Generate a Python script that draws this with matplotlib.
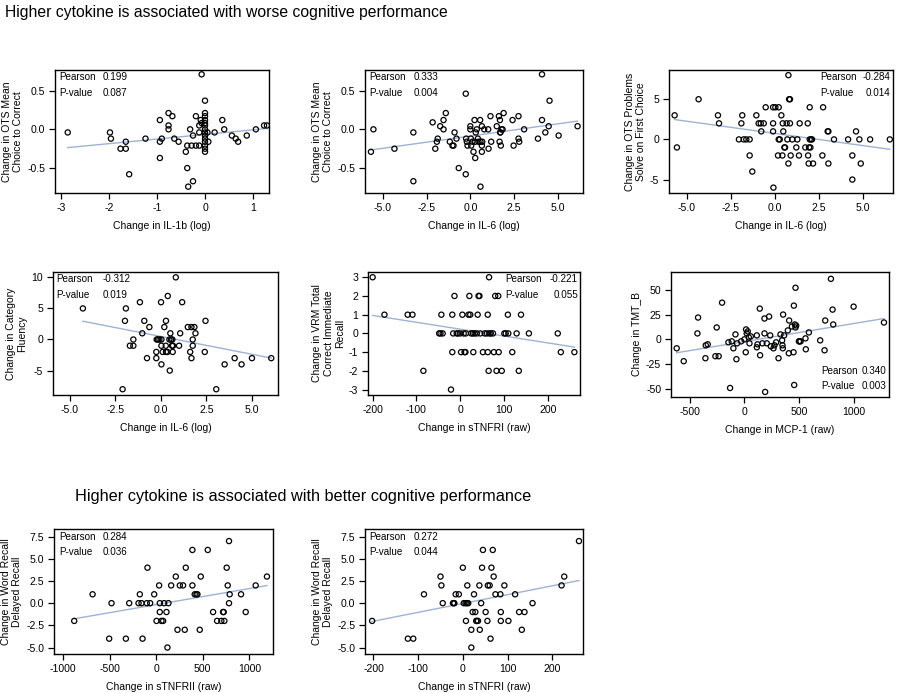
import matplotlib
matplotlib.use("Agg")
import matplotlib.pyplot as plt
import numpy as np

plt.rcParams['font.family'] = ['Liberation Sans', 'DejaVu Sans']

# ---------------- data ----------------
p1_x = [-2.86, -1.98, -1.96, -1.76, -1.65, -1.65, -1.58, -1.24, -0.94, -0.94, -0.90, -0.94,
        -0.76, -0.76, -0.76, -0.68, -0.64, -0.55, -0.40, -0.37, -0.37, -0.35, -0.31, -0.28,
        -0.25, -0.25, -0.19, -0.19, -0.12, -0.12, -0.12, -0.09, -0.07, -0.07,
        0.0, 0.0, 0.0, 0.0, 0.0, 0.0, 0.0, 0.0, 0.0, 0.0, 0.0, 0.0, 0.0, 0.0,
        0.05, 0.07, 0.20, 0.36, 0.40, 0.56, 0.64, 0.69, 0.87, 1.06, 1.23, 1.29]
p1_y = [-0.04, -0.04, -0.12, -0.25, -0.16, -0.25, -0.58, -0.12, 0.12, -0.16, -0.12, -0.37,
        0.21, 0.05, 0.00, 0.17, -0.12, -0.16, -0.29, -0.21, -0.50, -0.74, 0.00, -0.21,
        -0.08, -0.67, 0.17, -0.21, -0.21, 0.05, -0.04, 0.12, 0.71, 0.08,
        0.37, 0.21, 0.17, 0.12, 0.08, 0.05, 0.0, -0.04, -0.08, -0.12, -0.16, -0.21, -0.25, -0.29,
        -0.04, -0.16, -0.04, 0.12, 0.0, -0.08, -0.12, -0.16, -0.08, 0.0, 0.05, 0.05]

p2_x = [-5.67, -5.53, -4.33, -3.25, -3.25, -2.15, -2.00, -1.91, -1.86, -1.72, -1.53, -1.53,
        -1.40, -1.17, -1.02, -0.96, -0.90, -0.79, -0.66, -0.26, -0.26, -0.24, -0.20, -0.16,
        0.0, 0.0, 0.03, 0.05, 0.12, 0.18, 0.24, 0.28, 0.28, 0.31, 0.37, 0.43, 0.47, 0.56,
        0.58, 0.58, 0.66, 0.66, 0.66, 0.68, 0.79, 1.02, 1.04, 1.15, 1.19, 1.51, 1.63, 1.67,
        1.69, 1.70, 1.72, 1.74, 1.78, 1.84, 1.90, 2.41, 2.47, 2.75, 2.75, 2.79, 3.07, 3.86,
        4.09, 4.09, 4.28, 4.47, 4.52, 5.04, 6.12]
p2_y = [-0.29, 0.0, -0.25, -0.04, -0.67, 0.09, -0.25, -0.16, -0.12, 0.04, 0.12, 0.0,
        0.21, -0.16, -0.21, -0.21, -0.04, -0.12, -0.50, 0.46, -0.58, -0.12, -0.16, -0.21,
        0.04, 0.0, -0.12, -0.21, -0.16, -0.29, 0.12, -0.16, -0.37, -0.04, 0.0, -0.12, -0.16, 0.12,
        -0.74, -0.16, -0.21, -0.29, 0.04, -0.16, 0.0, 0.0, -0.25, 0.17, -0.16, 0.04, 0.17, -0.16,
        0.12, -0.04, -0.04, -0.21, 0.0, 0.0, 0.21, 0.12, -0.21, 0.17, -0.12, -0.16, 0.0, -0.12,
        0.71, 0.12, -0.04, 0.04, 0.37, -0.08, 0.04]

p3_x = [-5.70, -5.57, -4.34, -3.24, -3.18, -2.05, -1.91, -1.86, -1.78, -1.63, -1.44, -1.44,
        -1.29, -1.06, -0.93, -0.81, -0.78, -0.64, -0.53, -0.11, -0.09, -0.11, -0.11, 0.02,
        0.17, 0.21, 0.21, 0.27, 0.36, 0.42, 0.44, 0.47, 0.53, 0.57, 0.66, 0.70, 0.76, 0.76,
        0.80, 0.85, 0.85, 0.89, 0.98, 1.21, 1.27, 1.36, 1.40, 1.72, 1.86, 1.88, 1.91, 1.93,
        1.97, 1.97, 2.01, 2.05, 2.10, 2.16, 2.69, 2.73, 2.99, 3.03, 3.03, 3.35, 4.15, 4.39,
        4.39, 4.60, 4.79, 4.87, 5.40, 6.52]
p3_y = [3, -1, 5, 3, 2, 0, 2, 3, 0, 0, 0, -2,
        -4, 3, 2, 2, 1, 2, 4, 4, -6, 2, 1, 4,
        -2, 4, 0, 0, 3, -2, 2, 1, -1, -1, 2, 0, -3, 8,
        5, 5, 2, -2, 0, -1, 0, -2, 2, -1, 2, -2, -3, -1,
        4, 0, -1, 0, 0, -3, -2, 4, 1, 1, -3, 0, 0, -2,
        -5, 1, 0, -3, 0, 0]

p4_x = [-4.28, -2.10, -1.97, -1.92, -1.70, -1.51, -1.51, -1.15, -1.02, -0.91, -0.76, -0.63,
        -0.25, -0.25, -0.23, -0.16, -0.08, 0.01, 0.03, 0.03, 0.03, 0.10, 0.19, 0.27, 0.28,
        0.28, 0.36, 0.38, 0.47, 0.49, 0.52, 0.56, 0.61, 0.63, 0.65, 0.67, 0.82, 1.00, 1.06,
        1.17, 1.48, 1.61, 1.68, 1.68, 1.75, 1.75, 1.84, 1.90, 2.41, 2.45, 3.04, 3.50, 4.05,
        4.43, 5.00, 6.06]
p4_y = [5, -8, 3, 5, -1, 0, -1, 6, 1, 3, -3, 2,
        -2, -3, 0, 0, 0, 6, 0, -4, -1, -2, 2, -1, 3,
        -2, -2, 7, 0, -5, 1, 0, -1, 0, -2, -1, 10, -1, 1,
        6, 2, -2, 2, -3, 0, -1, 2, 1, -2, 3, -8, -4, -3,
        -4, -3, -3]

p5_x = [-200, -173, -120, -109, -84, -48, -45, -43, -40, -21, -18, -18, -16, -13, -8, -5,
        0, 2, 5, 8, 10, 12, 13, 19, 21, 23, 25, 29, 30, 33, 38, 40, 42, 44, 46, 52, 56, 61,
        63, 63, 65, 66, 67, 70, 75, 77, 80, 83, 87, 88, 95, 101, 104, 109, 110, 119, 129,
        134, 139, 157, 223, 230, 261]
p5_y = [3, 1, 1, 1, -2, 0, 0, 1, 0, -3, 1, -1, 0, 2, 0, 0,
        0, -1, 1, 0, -1, -1, 0, 1, 2, 1, 0, 0, -1, 0, 0, 1, 2, 2, 0, -1, 0, 0,
        -1, 1, -2, 3, 0, 0, 0, -1, 2, -2, 2, -1, -2, 0, 0, 1, 0, -1, 0,
        -2, 1, 0, 0, -1, -1]

p6_x = [-618, -554, -429, -423, -353, -335, -356, -265, -253, -235, -204, -146, -131, -116,
        -101, -82, -73, -67, -30, 0, 12, 15, 21, 30, 40, 46, 58, 113, 113, 119, 140, 143,
        164, 183, 183, 189, 204, 225, 235, 241, 265, 274, 289, 311, 329, 344, 347, 350, 353,
        362, 396, 405, 408, 433, 448, 454, 451, 460, 466, 466, 472, 497, 502, 512, 557, 560,
        588, 691, 731, 737, 789, 804, 810, 996, 1273]
p6_y = [-9, -22, 6, 22, -6, -5, -19, -17, 12, -17, 37, -3, -49, -2,
        -9, 5, -20, -4, -2, 0, -13, 10, 6, 8, 2, -4, 3, 4, -8, -5, 31, -16,
        -4, 6, 21, -53, -4, 23, 4, -7, -9, -6, -3, -19, 5, -1, -6, -9, 25,
        4, 9, -14, 19, 13, -13, -46, 34, 15, 12, 52, 14, -2, -2, -2, 1, -10,
        7, -1, -11, 19, 61, 30, 15, 33, 17]

p7_x = [-879, -682, -504, -479, -325, -289, -175, -189, -157, -146, -93, -100, -64, -21,
        4, 32, 39, 39, 57, 75, 86, 111, 121, 132, 161, 211, 229, 254, 289, 307, 318, 389,
        389, 414, 432, 443, 468, 479, 554, 611, 654, 700, 718, 725, 732, 757, 768, 782,
        782, 789, 911, 961, 1068, 1189]
p7_y = [-2, 1, -4, 0, -4, 0, 1, 0, 0, -4, 4, 0, 0, 1,
        -2, 2, 0, -1, -2, -2, 0, -1, -5, 0, 2, 3, -3, 2, 2, -3, 4, 2,
        6, 1, 1, 1, -3, 3, 6, -1, -2, -2, -1, -1, -2, 4, 2, 7,
        0, 1, 1, -1, 2, 3]

p8_x = [-203, -123, -111, -87, -50, -48, -45, -22, -20, -19, -16, -9, 0, 2, 6, 9, 10, 12,
        7, 19, 19, 22, 25, 28, 30, 31, 34, 37, 38, 41, 43, 45, 51, 55, 56, 60, 62, 64, 67,
        69, 73, 84, 85, 85, 93, 102, 117, 126, 132, 138, 156, 221, 227, 260]
p8_y = [-2, -4, -4, 1, 3, 2, 0, 0, 0, 0, 1, 1, 4, 0, 0, 0, 2, 0,
        -2, -3, -5, -1, 1, -1, -2, -2, -2, 2, -3, 0, 4, 6, -1, -2, 2, 2, -4, 4, 6,
        3, 1, 1, -1, -2, 2, -2, 1, -1, -3, -1, 0, 2, 3, 7]

# fitted regression lines: (intercept, slope)
fit_intercepts = [-0.066, -0.087, 0.743, 0.487, 0.227, -2.23, -0.166, -0.038]
fit_slopes = [0.0594, 0.0316, -0.303, -0.573, -0.00367, 0.01824, 0.001813, 0.00996]

pearson_r = ["0.199", "0.333", "-0.284", "-0.312", "-0.221", "0.340", "0.284", "0.272"]
p_values = ["0.087", "0.004", "0.014", "0.019", "0.055", "0.003", "0.036", "0.044"]

x_labels = ["Change in IL-1b (log)", "Change in IL-6 (log)", "Change in IL-6 (log)",
            "Change in IL-6 (log)", "Change in sTNFRI (raw)", "Change in MCP-1 (raw)",
            "Change in sTNFRII (raw)", "Change in sTNFRI (raw)"]
y_labels = ["Change in OTS Mean\nChoice to Correct", "Change in OTS Mean\nChoice to Correct",
            "Change in OTS Problems\nSolve on First Choice", "Change in Category\nFluency",
            "Change in VRM Total\nCorrect Immediate\nRecall", "Change in TMT_B",
            "Change in Word Recall\nDelayed Recall", "Change in Word Recall\nDelayed Recall"]

titles = ["Higher cytokine is associated with worse cognitive performance",
          "Higher cytokine is associated with better cognitive performance"]

xs = [p1_x, p2_x, p3_x, p4_x, p5_x, p6_x, p7_x, p8_x]
ys = [p1_y, p2_y, p3_y, p4_y, p5_y, p6_y, p7_y, p8_y]

# ---------------- layout ----------------
W, H = 900, 693
boxes = [(55, 70, 269, 193), (365, 70, 583, 193), (669, 70, 893, 193),
         (53, 272, 278, 395), (368, 272, 580, 395), (671, 272, 889, 397),
         (54, 529, 273, 654), (365, 529, 583, 654)]
xlims = [(-3.125, 1.333), (-6.01, 6.43), (-6.02, 6.70), (-5.92, 6.43),
         (-210.6, 273.8), (-670, 1319), (-1096, 1254), (-219, 269)]
ylims = [(-0.822, 0.766), (-0.822, 0.766), (-6.67, 8.64), (-8.93, 10.86),
         (-3.29, 3.28), (-58.1, 67.9), (-5.73, 8.36), (-5.73, 8.36)]
xticks = [[-3, -2, -1, 0, 1], [-5, -2.5, 0, 2.5, 5], [-5, -2.5, 0, 2.5, 5],
          [-5, -2.5, 0, 2.5, 5], [-200, -100, 0, 100, 200], [-500, 0, 500, 1000],
          [-1000, -500, 0, 500, 1000], [-200, -100, 0, 100, 200]]
xtick_fmt = ["{:.0f}", "{:.1f}", "{:.1f}", "{:.1f}", "{:.0f}", "{:.0f}", "{:.0f}", "{:.0f}"]
yticks = [[-0.5, 0, 0.5], [-0.5, 0, 0.5], [-5, 0, 5], [-5, 0, 5, 10],
          [-3, -2, -1, 0, 1, 2, 3], [-50, -25, 0, 25, 50],
          [-5, -2.5, 0, 2.5, 5, 7.5], [-5, -2.5, 0, 2.5, 5, 7.5]]
ytick_fmt = ["{:.1f}", "{:.1f}", "{:.0f}", "{:.0f}", "{:.0f}", "{:.0f}", "{:.1f}", "{:.1f}"]
stat_pos = ["tl", "tl", "tr", "tl", "tr", "br", "tl", "tl"]
stat_left = [0.018, 0.018, 0.674, 0.016, 0.646, 0.69, 0.023, 0.018]

fig = plt.figure(figsize=(W / 100, H / 100), dpi=100)

fs = 7.6
fs_stat = 7.1
for i in range(8):
    l, t, r, b = boxes[i]
    ax = fig.add_axes([l / W, 1 - b / H, (r - l) / W, (b - t) / H])
    ax.scatter(xs[i], ys[i], s=14, facecolors='none', edgecolors='black', linewidths=0.9, zorder=3)
    xx = np.array([min(xs[i]), max(xs[i])])
    ax.plot(xx, fit_intercepts[i] + fit_slopes[i] * xx, color='#9db3d4', lw=1.0, zorder=2)
    ax.set_xlim(*xlims[i])
    ax.set_ylim(*ylims[i])
    ax.set_xticks(xticks[i])
    ax.set_xticklabels([xtick_fmt[i].format(v) for v in xticks[i]])
    ax.set_yticks(yticks[i])
    ax.set_yticklabels([ytick_fmt[i].format(v) for v in yticks[i]])
    ax.tick_params(direction='out', length=4, width=0.9, labelsize=fs, pad=3,
                   top=False, right=False)
    for sp in ax.spines.values():
        sp.set_linewidth(1.0)
    ax.set_xlabel(x_labels[i], fontsize=7.5, labelpad=6)
    ax.set_ylabel(y_labels[i], fontsize=7.5, labelpad=3, linespacing=1.15)

    pos = stat_pos[i]
    x0 = stat_left[i]
    if pos == "br":
        y0, y1 = 0.21, 0.088
    else:
        y0, y1 = 0.94, 0.813
    ax.text(x0, y0, "Pearson", transform=ax.transAxes, fontsize=fs_stat, ha='left', va='center')
    ax.text(x0, y1, "P-value", transform=ax.transAxes, fontsize=fs_stat, ha='left', va='center')
    if pos == "tl":
        xv = 0.222
        ax.text(xv, y0, pearson_r[i], transform=ax.transAxes, fontsize=fs_stat, ha='left', va='center')
        ax.text(xv, y1, p_values[i], transform=ax.transAxes, fontsize=fs_stat, ha='left', va='center')
    else:
        xv = 0.99
        ax.text(xv, y0, pearson_r[i], transform=ax.transAxes, fontsize=fs_stat, ha='right', va='center')
        ax.text(xv, y1, p_values[i], transform=ax.transAxes, fontsize=fs_stat, ha='right', va='center')

fig.text(5 / W, 1 - 12 / H, titles[0], fontsize=11.3, ha='left', va='center')
fig.text(75 / W, 1 - 497 / H, titles[1], fontsize=11.7, ha='left', va='center')

fig.savefig("out.png", dpi=100)
